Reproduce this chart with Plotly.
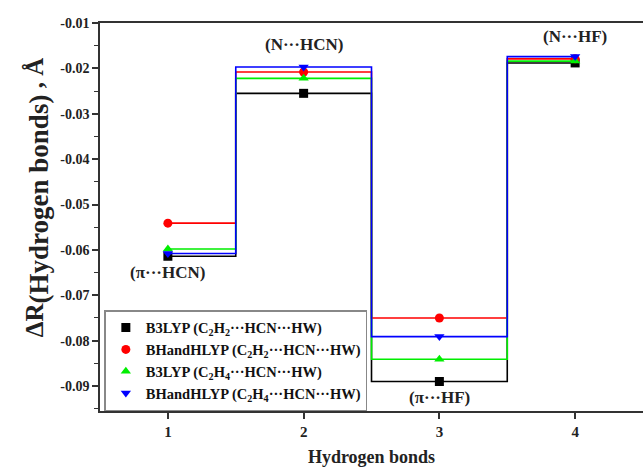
import plotly.graph_objects as go

bonds = [1, 2, 3, 4]
b3lyp_c2h2 = [-0.0614, -0.0255, -0.0890, -0.0188]
bhh_c2h2 = [-0.0541, -0.0208, -0.0750, -0.0179]
b3lyp_c2h4 = [-0.0598, -0.0222, -0.0841, -0.0184]
bhh_c2h4 = [-0.0608, -0.0197, -0.0791, -0.0174]

series_names = [
    "B3LYP (C<sub>2</sub>H<sub>2</sub>···HCN···HW)",
    "BHandHLYP (C<sub>2</sub>H<sub>2</sub>···HCN···HW)",
    "B3LYP (C<sub>2</sub>H<sub>4</sub>···HCN···HW)",
    "BHandHLYP (C<sub>2</sub>H<sub>4</sub>···HCN···HW)",
]
series_values = [b3lyp_c2h2, bhh_c2h2, b3lyp_c2h4, bhh_c2h4]
colors = ["#000000", "#ff0000", "#00ee00", "#0000ff"]
symbols = ["square", "circle", "triangle-up", "triangle-down"]

ytick_vals = [-0.01, -0.02, -0.03, -0.04, -0.05, -0.06, -0.07, -0.08, -0.09]
ytick_text = ["-0.01", "-0.02", "-0.03", "-0.04", "-0.05", "-0.06", "-0.07", "-0.08", "-0.09"]

labels = ["(π···HCN)", "(N···HCN)", "(π···HF)", "(N···HF)"]
label_y = [-0.0650, -0.0148, -0.0926, -0.0129]

FONT = "Liberation Serif"

fig = go.Figure()
for name, vals, c, s in zip(series_names, series_values, colors, symbols):
    fig.add_trace(go.Scatter(
        x=bonds, y=vals, mode="lines+markers", line=dict(color=c, width=1.6, shape="hvh"),
        marker=dict(symbol=s, size=9, color=c), showlegend=False, name=name))
for name, c, s in zip(series_names, colors, symbols):
    fig.add_trace(go.Scatter(
        x=[None], y=[None], mode="markers", marker=dict(symbol=s, size=9, color=c),
        name=name, showlegend=True))

for t, xv, yv in zip(labels, bonds, label_y):
    fig.add_annotation(x=xv, y=yv, text="<b>" + t + "</b>", showarrow=False,
                       font=dict(family=FONT, size=17, color="#222"))

# y-axis title as a rotated annotation
fig.add_annotation(
    xref="paper", yref="paper", x=-0.115, y=0.55, xanchor="center", yanchor="middle",
    textangle=-90, showarrow=False,
    text="<b>ΔR<sub><span style=\"font-size:27px\">(Hydrogen bonds)</span></sub> , Å</b>",
    font=dict(family=FONT, size=25, color="#222"))

fig.update_layout(
    width=643, height=471,
    margin=dict(l=100, r=0, t=23, b=60),
    paper_bgcolor="white", plot_bgcolor="white",
    font=dict(family=FONT, color="#222"),
    legend=dict(x=0.008, y=0.26, xanchor="left", yanchor="top",
                bordercolor="#888", borderwidth=1.5, bgcolor="white",
                font=dict(family=FONT, size=14.5, color="#111", weight="bold"),
                itemwidth=30, tracegroupgap=0),
    xaxis=dict(range=[0.5, 4.5], tickvals=bonds, showgrid=False, zeroline=False,
               showline=True, linecolor="#333", linewidth=1.5, mirror=True,
               ticks="outside", ticklen=6, tickcolor="#333", tickwidth=1.5,
               tickfont=dict(family=FONT, size=15, color="#222", weight="bold"),
               title=dict(text="<b>Hydrogen bonds</b>", standoff=12,
                          font=dict(family=FONT, size=18, color="#222"))),
    yaxis=dict(range=[-0.0955, -0.01], tickvals=ytick_vals, ticktext=ytick_text,
               showgrid=False, zeroline=False, showline=True, linecolor="#333",
               linewidth=1.5, mirror=False, ticks="outside", ticklen=6,
               tickcolor="#333", tickwidth=1.5,
               minor=dict(dtick=0.005, tick0=-0.01, ticks="outside", ticklen=4,
                          tickcolor="#333", tickwidth=1.2),
               tickfont=dict(family=FONT, size=14, color="#222", weight="bold")),
)

fig.write_html("out.html")
